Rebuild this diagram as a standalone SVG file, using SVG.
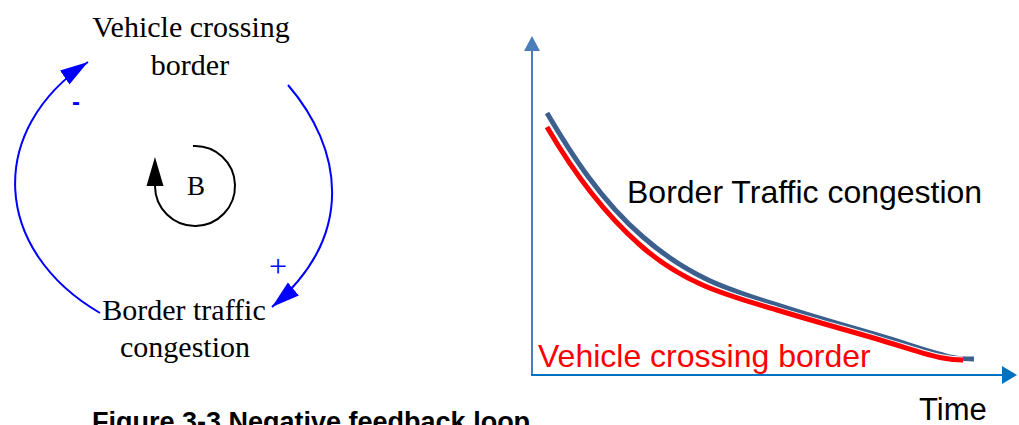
<svg xmlns="http://www.w3.org/2000/svg" width="1019" height="425" viewBox="0 0 1019 425">
<style>
.serif{font-family:"Liberation Serif","Times New Roman",serif;font-size:30px;fill:#000;text-anchor:middle}
.sans{font-family:"Liberation Sans",Arial,sans-serif}
.link{fill:none;stroke:#0000ff;stroke-width:2}
.plus{fill:#0000ff;text-anchor:middle;font-family:"Liberation Serif","Times New Roman",serif;font-size:32px}
.minus{fill:#0000ff;text-anchor:middle;font-family:"Liberation Sans",Arial,sans-serif;font-size:24px;font-weight:bold}
</style>
<defs>
<marker id="blueArrow" markerUnits="userSpaceOnUse" markerWidth="30" markerHeight="18" refX="28" refY="8.5" orient="auto">
<path d="M0,0 L28,8.5 L0,17 z" fill="#0000ff"/>
</marker>
<marker id="blackArrow" markerUnits="userSpaceOnUse" markerWidth="31" markerHeight="18" refX="0" refY="8.5" orient="auto">
<path d="M0,0 L29,8.5 L0,17 z" fill="#000"/>
</marker>
<marker id="yArrow" markerUnits="userSpaceOnUse" markerWidth="17" markerHeight="18" refX="0" refY="8" orient="auto">
<path d="M0,0 L15,8 L0,16 z" fill="#4a7ebb"/>
</marker>
<marker id="xArrow" markerUnits="userSpaceOnUse" markerWidth="17" markerHeight="20" refX="0" refY="9" orient="auto">
<path d="M0,0 L15,9 L0,18 z" fill="#0070c0"/>
</marker>
</defs>

<g id="node-vehicle-crossing">
<text class="serif" x="191" y="37">Vehicle crossing</text>
<text class="serif" x="190" y="75">border</text>
</g>
<g id="node-border-traffic">
<text class="serif" x="184" y="320">Border traffic</text>
<text class="serif" x="185" y="357">congestion</text>
</g>

<g id="connectors">
<path class="link" d="M288,85 C342,148 357,235 272,307" marker-end="url(#blueArrow)"/>
<path class="link" d="M100,313 C-8,250 -14,130 88,62" marker-end="url(#blueArrow)"/>
<text class="plus" x="278" y="277">+</text>
<text class="minus" x="76" y="110">-</text>
</g>

<g id="loop-indicator">
<path d="M193,146 A40,40 0 1 1 155,186" fill="none" stroke="#000" stroke-width="2" marker-end="url(#blackArrow)"/>
<text class="serif" x="196" y="195" style="font-size:27px">B</text>
</g>

<g id="chart">
<path d="M532,376 L532,51" stroke="#4a7ebb" stroke-width="2" fill="none" marker-end="url(#yArrow)"/>
<path d="M531,375 L1002,375" stroke="#0070c0" stroke-width="2" fill="none" marker-end="url(#xArrow)"/>
<path d="M547,113 C570,152 600,200 643,237 C690,278 730,290 777,305 C820,319 850,327 877,335 C905,343 925,351 943,355 C952,358 960,359 974,359" fill="none" stroke="#3d5f8e" stroke-width="5"/>
<path d="M547,127 C568,163 598,208 640,245 C685,285 730,296 777,310 C820,323 850,331 877,339 C905,347 925,355 943,358 C950,359.5 955,360 963,360" fill="none" stroke="#fff" stroke-width="7"/>
<path d="M547,127 C568,163 598,208 640,245 C685,285 730,296 777,310 C820,323 850,331 877,339 C905,347 925,355 943,358 C950,359.5 955,360 963,360" fill="none" stroke="#ff0000" stroke-width="5"/>
<text class="sans" x="627" y="203" font-size="32" fill="#000">Border Traffic congestion</text>
<text class="sans" x="538" y="367" font-size="32" fill="#ff0000">Vehicle crossing border</text>
<text class="sans" x="919" y="420" font-size="31" fill="#000">Time</text>
</g>

<text class="sans" x="92" y="431" font-size="27" font-weight="bold" fill="#000">Figure 3-3 Negative feedback loop</text>
</svg>
